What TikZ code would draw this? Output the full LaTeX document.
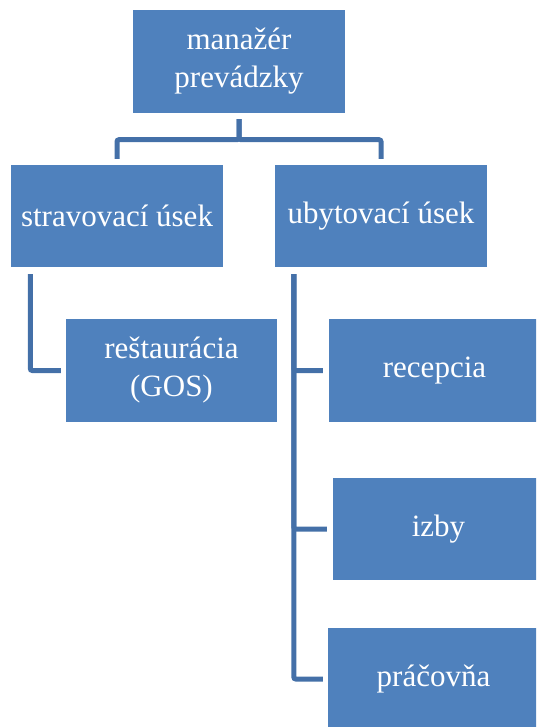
\documentclass[tikz,border=0pt]{standalone}
\usepackage{fontspec}
\setmainfont{Liberation Serif}
\usepackage{xcolor}
\usetikzlibrary{positioning, calc}
\definecolor{orgfill}{HTML}{4F81BD}
\definecolor{orgwire}{HTML}{4470A8}
\tikzset{
  orgbox/.style={
    rectangle, fill=orgfill, text=white, align=center,
    minimum height=102pt, minimum width=212pt, inner sep=0pt,
    font=\fontsize{31}{38}\selectfont
  },
  orgline/.style={draw=orgwire, line width=5pt, rounded corners=2pt},
}

\begin{document}
\begin{tikzpicture}[x=1pt, y=-1pt]
  \useasboundingbox (0,0) rectangle (536,727);
  \clip (0,0) rectangle (536,727);
  % boxes
  \node[orgbox, minimum height=103pt] (mgr) at (239,61.5) {manažér\\prevádzky};
  \node[orgbox] (strav) at (117,216) {stravovací úsek};
  \node[orgbox] (ubyt) at (381,216) {ubytovací úsek};
  \node[orgbox, minimum width=211pt, minimum height=103pt] (rest) at (171.5,370.5) {reštaurácia\\(GOS)};
  \node[orgbox, minimum width=211pt, minimum height=103pt] (recep) at (434.5,370.5) {recepcia};
  \node[orgbox, minimum width=211pt] (izby) at (438.5,529) {izby};
  \node[orgbox, minimum width=211pt] (prac) at (433.5,679) {práčovňa};
  % connectors
  \draw[orgline] ([yshift=-6pt]mgr.south) -- ++(0,20.5) -| ([yshift=6pt]strav.north);
  \draw[orgline] ([yshift=-6pt]mgr.south) -- ++(0,20.5) -| ([yshift=6pt]ubyt.north);
  \draw[orgline] ([shift={(19.5pt,-7pt)}]strav.south west) |- ([xshift=-5pt]rest.west);
  \coordinate (trunk) at ([shift={(19pt,-7pt)}]ubyt.south west);
  \draw[orgline] (trunk) |- ([xshift=-6pt]recep.west);
  \draw[orgline] (trunk) |- ([xshift=-6pt]izby.west);
  \draw[orgline] (trunk) |- ([xshift=-5pt]prac.west);
\end{tikzpicture}
\end{document}
